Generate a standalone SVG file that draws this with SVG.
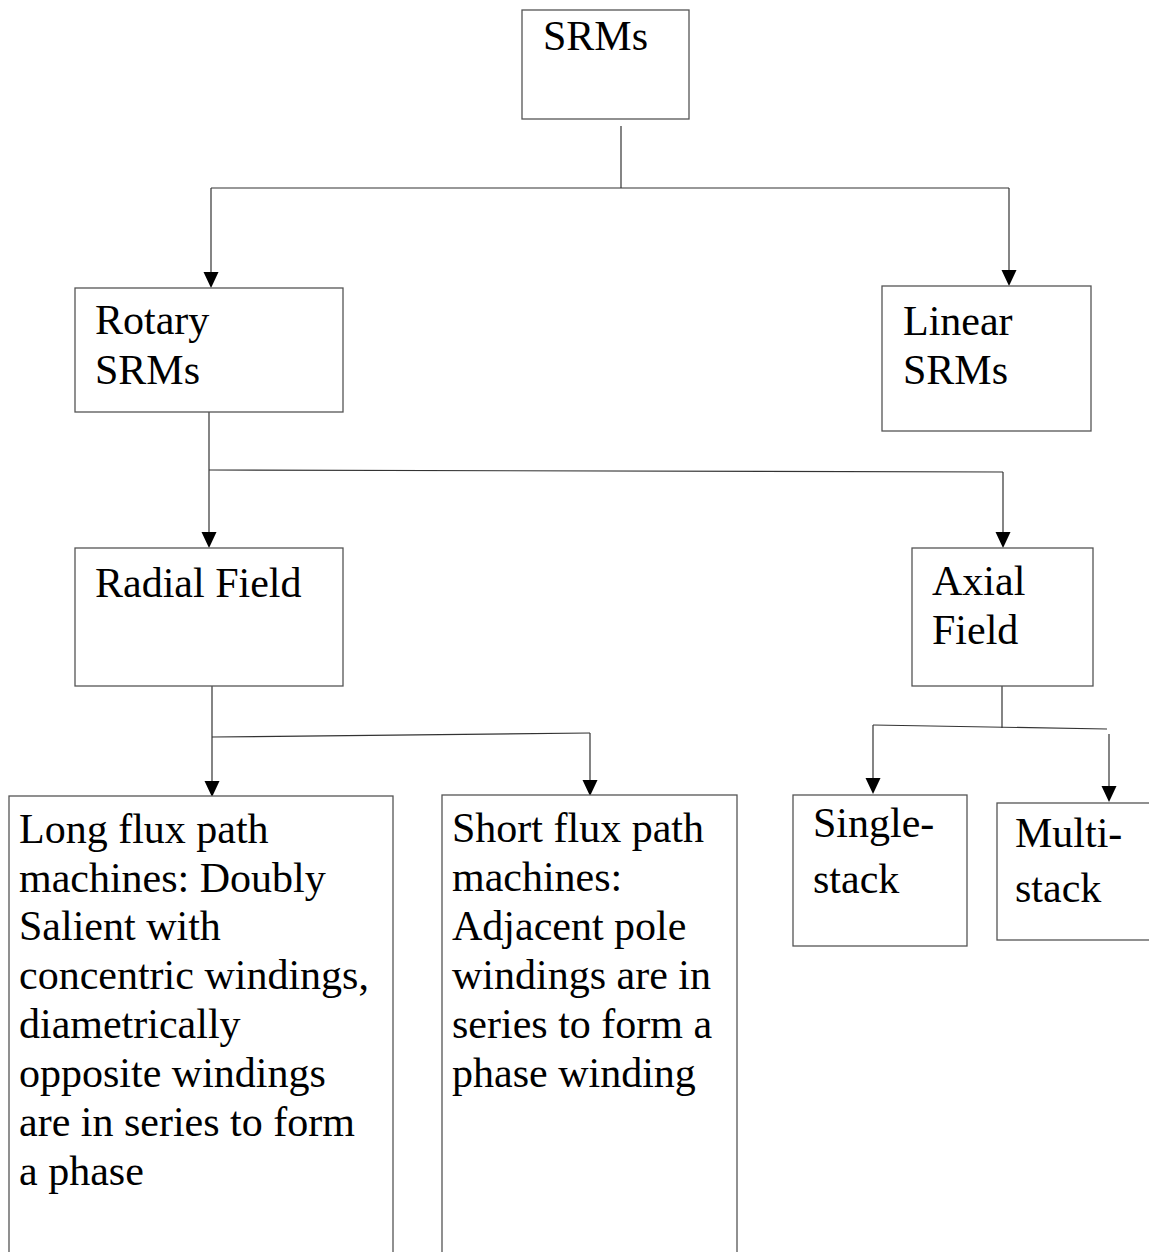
<svg xmlns="http://www.w3.org/2000/svg" width="1149" height="1252" viewBox="0 0 1149 1252">
<style>
.box{fill:#fff;stroke:#555;stroke-width:1.3}
.t{font-family:"Liberation Serif","Times New Roman",serif;font-size:42px;fill:#000}
.c{fill:none;stroke:#333;stroke-width:1.2}
.ah{fill:#000}
</style>
<rect width="1149" height="1252" fill="#fff"/>
<g id="connectors">
<line class="c" x1="621" y1="126" x2="621" y2="188"/>
<line class="c" x1="211" y1="188" x2="1009" y2="188"/>
<line class="c" x1="211" y1="188" x2="211" y2="273"/>
<line class="c" x1="1009" y1="188" x2="1009" y2="271"/>
<line class="c" x1="209" y1="412" x2="209" y2="533"/>
<line class="c" x1="209" y1="470" x2="1003" y2="472"/>
<line class="c" x1="1003" y1="472" x2="1003" y2="533"/>
<line class="c" x1="212" y1="686" x2="212" y2="782"/>
<line class="c" x1="212" y1="737" x2="590" y2="733"/>
<line class="c" x1="590" y1="733" x2="590" y2="781"/>
<line class="c" x1="1002" y1="686" x2="1002" y2="728"/>
<line class="c" x1="873" y1="725" x2="1107" y2="729"/>
<line class="c" x1="873" y1="725" x2="873" y2="779"/>
<line class="c" x1="1109" y1="734" x2="1109" y2="787"/>
<path class="ah" d="M203.5,272 L218.5,272 L211,288 Z"/>
<path class="ah" d="M1001.5,270 L1016.5,270 L1009,286 Z"/>
<path class="ah" d="M201.5,532 L216.5,532 L209,548 Z"/>
<path class="ah" d="M995.5,532 L1010.5,532 L1003,548 Z"/>
<path class="ah" d="M204.5,781 L219.5,781 L212,797 Z"/>
<path class="ah" d="M582.5,780 L597.5,780 L590,796 Z"/>
<path class="ah" d="M865.5,778 L880.5,778 L873,794 Z"/>
<path class="ah" d="M1101.5,786 L1116.5,786 L1109,802 Z"/>
</g>
<g id="node-srms">
<rect class="box" x="522" y="10" width="167" height="109"/>
<text class="t" x="543" y="50">SRMs</text>
</g>
<g id="node-rotary">
<rect class="box" x="75" y="288" width="268" height="124"/>
<text class="t" x="95" y="334">Rotary</text>
<text class="t" x="95" y="384">SRMs</text>
</g>
<g id="node-linear">
<rect class="box" x="882" y="286" width="209" height="145"/>
<text class="t" x="903" y="335">Linear</text>
<text class="t" x="903" y="384">SRMs</text>
</g>
<g id="node-radial">
<rect class="box" x="75" y="548" width="268" height="138"/>
<text class="t" x="95" y="597">Radial Field</text>
</g>
<g id="node-axial">
<rect class="box" x="912" y="548" width="181" height="138"/>
<text class="t" x="932" y="595">Axial</text>
<text class="t" x="932" y="644">Field</text>
</g>
<g id="node-long">
<rect class="box" x="9" y="796" width="384" height="480"/>
<text class="t" x="19" y="843">Long flux path</text>
<text class="t" x="19" y="892">machines: Doubly</text>
<text class="t" x="19" y="940">Salient with</text>
<text class="t" x="19" y="989">concentric windings,</text>
<text class="t" x="19" y="1038">diametrically</text>
<text class="t" x="19" y="1087">opposite windings</text>
<text class="t" x="19" y="1136">are in series to form</text>
<text class="t" x="19" y="1185">a phase</text>
</g>
<g id="node-short">
<rect class="box" x="442" y="795" width="295" height="480"/>
<text class="t" x="452" y="842">Short flux path</text>
<text class="t" x="452" y="891">machines:</text>
<text class="t" x="452" y="940">Adjacent pole</text>
<text class="t" x="452" y="989">windings are in</text>
<text class="t" x="452" y="1038">series to form a</text>
<text class="t" x="452" y="1087">phase winding</text>
</g>
<g id="node-single">
<rect class="box" x="793" y="795" width="174" height="151"/>
<text class="t" x="813" y="837">Single-</text>
<text class="t" x="813" y="893">stack</text>
</g>
<g id="node-multi">
<rect class="box" x="997" y="803" width="170" height="137"/>
<text class="t" x="1015" y="847">Multi-</text>
<text class="t" x="1015" y="902">stack</text>
</g>
</svg>
